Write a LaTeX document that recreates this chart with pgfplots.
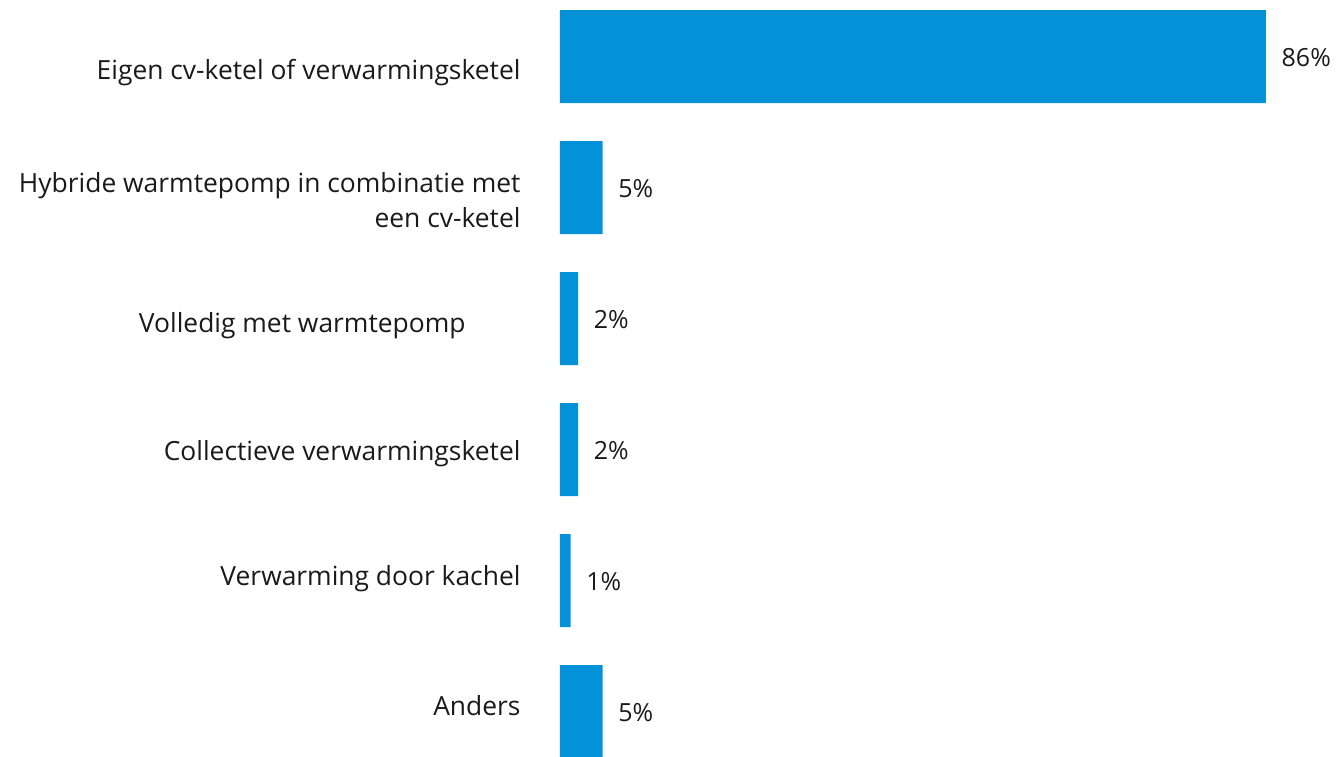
\documentclass[border=0pt]{standalone}
\usepackage{pgfplots}
\pgfplotsset{compat=1.18}
\usepackage{fontspec}
\setmainfont{Open Sans}
\definecolor{barblue}{RGB}{3,145,216}
\definecolor{txt}{RGB}{26,26,26}
\pgfplotstableread{
i v lab
0 86 86
1 5.2 5
2 2.2 2
3 2.2 2
4 1.3 1
5 5.2 5
}\datatable
\begin{document}
\begin{tikzpicture}
\begin{axis}[
  xbar,
  scale only axis,
  width=777pt, height=756pt,
  xmin=0, xmax=94.65,
  ymin=-0.4313, ymax=5.3397, y dir=reverse,
  axis line style={draw=none},
  tick style={draw=none},
  xtick=\empty,
  bar width=93pt,
  ytick={0.1031,1.0725,2.0305,3.0076,3.9618,4.9351},
  yticklabels={Eigen cv-ketel of verwarmingsketel,{Hybride warmtepomp in combinatie met\\een cv-ketel},{Volledig met warmtepomp\hspace*{55pt}},Collectieve verwarmingsketel,Verwarming door kachel,Anders},
  yticklabel style={align=right, font=\fontsize{26.4}{35}\selectfont, text=txt, inner sep=0pt, xshift=-35pt, yshift=-3pt},
  nodes near coords={\pgfplotspointmeta\%},
  point meta=explicit symbolic,
  nodes near coords style={anchor=west, inner sep=0pt, xshift=15.5pt, yshift=-1pt, font=\fontsize{25}{30}\selectfont, text=txt},
]
\addplot[fill=barblue, draw=none] table[x=v, y=i, meta=lab] {\datatable};
\end{axis}
\pgfresetboundingbox
\path[use as bounding box] ([xshift=-560pt]current axis.south west) rectangle (current axis.north east);
\end{tikzpicture}
\end{document}
